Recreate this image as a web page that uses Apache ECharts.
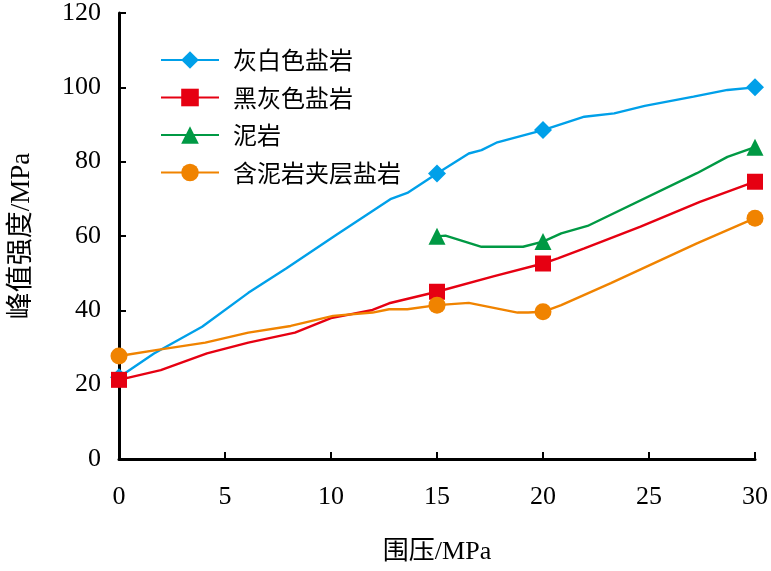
<!DOCTYPE html>
<html><head><meta charset="utf-8">
<script src="https://cdn.jsdelivr.net/npm/echarts@6/dist/echarts.min.js"></script>
<style>html,body{margin:0;padding:0;background:#fff}#c{width:771px;height:571px}</style>
</head><body><div id="c"></div>
<script>
const seriesNames = ['灰白色盐岩', '黑灰色盐岩', '泥岩', '含泥岩夹层盐岩'];
const xTicks = [0, 5, 10, 15, 20, 25, 30];
const yTicks = [0, 20, 40, 60, 80, 100, 120];
const markerX = [0, 15, 20, 30];

const blueX = [0, 1.65, 3.92, 6.1, 7.9, 10.24, 12.8, 13.6, 15, 16.5, 17.1, 17.8, 20, 21.95, 23.36, 24.8, 27.1, 28.7, 30];
const blueY = [22, 28.4, 35.6, 44.7, 51.3, 60.3, 69.9, 71.6, 76.8, 82.2, 83.1, 85.1, 88.5, 92.1, 93, 95, 97.5, 99.3, 100];

const redX = [0, 1.97, 4.15, 6.1, 8.3, 10, 11.96, 12.74, 15, 17.7, 20, 20.7, 21.95, 24.6, 27.4, 30];
const redY = [21.3, 23.9, 28.4, 31.3, 34, 37.9, 40.1, 41.9, 45, 49.2, 52.6, 54, 56.7, 62.5, 69.2, 74.6];

const greenX = [15, 15.4, 17.1, 19.06, 20, 20.86, 22.1, 27.26, 28.7, 30];
const greenY = [59.9, 60.1, 57.1, 57.1, 58.5, 60.7, 62.7, 76.9, 81.3, 83.9];

const orangeX = [0, 1.97, 4.07, 6.1, 8.1, 10.1, 11.96, 12.74, 13.6, 15, 16.5, 18.8, 19.3, 20, 20.86, 23.2, 27.26, 30];
const orangeY = [27.7, 29.5, 31.3, 34, 35.8, 38.5, 39.4, 40.3, 40.3, 41.4, 42, 39.4, 39.4, 39.6, 41.4, 47.3, 58, 64.8];

const colors = ['#00A0E9', '#E60012', '#009944', '#F08300'];
const symbols = ['diamond', 'rect', 'triangle', 'circle'];
const sizes = [18, 16, 17, 17];
const xs = [blueX, redX, greenX, orangeX];
const ys = [blueY, redY, greenY, orangeY];

function build(xa, ya) {
  return xa.map((x, i) => {
    const item = { value: [x, ya[i]] };
    if (markerX.indexOf(x) < 0) item.symbol = 'none';
    return item;
  });
}

const serif = '"Liberation Serif", "Times New Roman", "Noto Sans CJK SC", serif';
const chart = echarts.init(document.getElementById('c'), null, { renderer: 'canvas' });
chart.setOption({
  animation: false,
  backgroundColor: '#fff',
  grid: { left: 118, right: 13, top: 13, bottom: 112, containLabel: false },
  legend: {
    orient: 'vertical', left: 160, top: 48, padding: 0,
    itemWidth: 58, itemHeight: 22, itemGap: 13.5,
    data: seriesNames,
    textStyle: { fontSize: 24, fontFamily: '"Noto Sans CJK SC", serif', color: '#000', padding: [0, 0, 0, 9] }
  },
  xAxis: {
    type: 'value', min: 0, max: 30, interval: 5,
    name: '围压/MPa', nameLocation: 'middle', nameGap: 80,
    nameTextStyle: { fontSize: 26, fontFamily: serif, color: '#000' },
    axisLine: { lineStyle: { color: '#000', width: 3 } },
    axisTick: { inside: true, length: 7, lineStyle: { color: '#000', width: 2 } },
    axisLabel: { fontSize: 26, fontFamily: serif, color: '#000', margin: 25,
      formatter: v => xTicks.indexOf(v) >= 0 ? String(v) : '' },
    splitLine: { show: false }
  },
  yAxis: {
    type: 'value', min: 0, max: 120, interval: 20,
    name: '峰值强度/MPa', nameLocation: 'middle', nameGap: 84,
    nameTextStyle: { fontSize: 27, fontFamily: serif, color: '#000' },
    axisLine: { show: true, lineStyle: { color: '#000', width: 3 } },
    axisTick: { show: true, inside: true, length: 7, lineStyle: { color: '#000', width: 2 } },
    axisLabel: { fontSize: 26, fontFamily: serif, color: '#000', margin: 18,
      formatter: v => yTicks.indexOf(v) >= 0 ? String(v) : '' },
    splitLine: { show: false }
  },
  series: seriesNames.map((n, k) => ({
    name: n, type: 'line', data: build(xs[k], ys[k]),
    symbol: symbols[k], symbolSize: sizes[k], showAllSymbol: true,
    itemStyle: { color: colors[k] },
    lineStyle: { color: colors[k], width: 2.4 },
    z: 2 + k
  }))
});
</script></body></html>
